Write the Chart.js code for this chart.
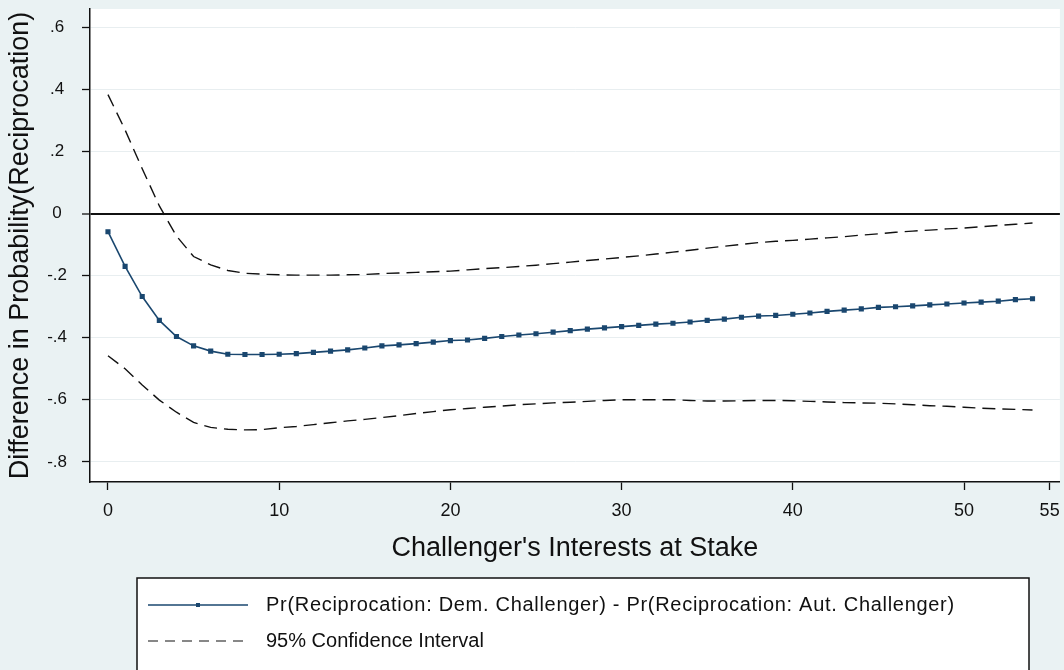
<!DOCTYPE html>
<html>
<head>
<meta charset="utf-8">
<script src="https://cdn.jsdelivr.net/npm/chart.js@4.4.1/dist/chart.umd.min.js"></script>
<style>
  html, body { margin: 0; padding: 0; background: rgb(234,242,243); }
  #wrap { width: 1064px; height: 670px; position: relative; }
</style>
</head>
<body>
<div id="wrap"><canvas id="c"></canvas></div>
<script>
// Challenger's interests at stake (x) and the estimated difference with its 95% band
const xValues = [0,1,2,3,4,5,6,7,8,9,10,11,12,13,14,15,16,17,18,19,20,21,22,23,24,25,26,27,28,29,30,31,32,33,34,35,36,37,38,39,40,41,42,43,44,45,46,47,48,49,50,51,52,53,54];
const estimate = [-0.058,-0.170,-0.267,-0.344,-0.396,-0.426,-0.443,-0.453,-0.454,-0.454,-0.453,-0.451,-0.447,-0.443,-0.439,-0.433,-0.426,-0.423,-0.419,-0.414,-0.409,-0.407,-0.402,-0.396,-0.391,-0.387,-0.382,-0.377,-0.372,-0.368,-0.364,-0.360,-0.356,-0.353,-0.349,-0.344,-0.340,-0.334,-0.330,-0.328,-0.324,-0.320,-0.315,-0.311,-0.307,-0.302,-0.300,-0.297,-0.294,-0.291,-0.288,-0.285,-0.282,-0.277,-0.274];
const upperCI = [0.384,0.270,0.145,0.025,-0.072,-0.138,-0.165,-0.183,-0.192,-0.195,-0.197,-0.198,-0.198,-0.198,-0.197,-0.196,-0.193,-0.191,-0.189,-0.187,-0.185,-0.181,-0.177,-0.174,-0.170,-0.166,-0.161,-0.156,-0.151,-0.146,-0.141,-0.136,-0.130,-0.124,-0.118,-0.111,-0.105,-0.099,-0.093,-0.089,-0.086,-0.082,-0.078,-0.074,-0.069,-0.065,-0.060,-0.056,-0.053,-0.049,-0.046,-0.042,-0.038,-0.034,-0.030];
const lowerCI = [-0.458,-0.500,-0.552,-0.601,-0.640,-0.673,-0.689,-0.695,-0.697,-0.696,-0.690,-0.686,-0.680,-0.674,-0.668,-0.663,-0.657,-0.651,-0.644,-0.638,-0.632,-0.628,-0.624,-0.620,-0.616,-0.613,-0.610,-0.608,-0.605,-0.602,-0.600,-0.600,-0.600,-0.600,-0.602,-0.604,-0.604,-0.603,-0.602,-0.602,-0.603,-0.605,-0.607,-0.609,-0.610,-0.611,-0.613,-0.616,-0.619,-0.621,-0.624,-0.627,-0.629,-0.631,-0.633];
const xTicks = [0,10,20,30,40,50,55];
const yTicks = [-0.8,-0.6,-0.4,-0.2,0,0.2,0.4,0.6];
const legendLabels = [
  "Pr(Reciprocation: Dem. Challenger) - Pr(Reciprocation: Aut. Challenger)",
  "95% Confidence Interval"
];

const NAVY = '#1a476f';
const PAGE_BG = 'rgb(234,242,243)';
const FONT = '"Liberation Sans", Arial, sans-serif';

const toPoints = ys => xValues.map((x, i) => ({ x: x, y: ys[i] }));

function yLabel(v) {
  if (v === 0) return '0';
  return (v < 0 ? '-' : '') + Math.abs(v).toFixed(1).replace(/^0/, '');
}

// page background and white plot region
const backdrop = {
  id: 'backdrop',
  beforeDraw(chart) {
    const { ctx, chartArea: a } = chart;
    ctx.save();
    ctx.fillStyle = PAGE_BG;
    ctx.fillRect(0, 0, chart.width, chart.height);
    ctx.fillStyle = '#ffffff';
    ctx.fillRect(a.left, a.top, a.right - a.left, a.bottom - a.top);
    ctx.restore();
  }
};

// boxed key below the axis title
const keyBox = {
  id: 'keyBox',
  afterDraw(chart) {
    const ctx = chart.ctx;
    const box = { left: 137, top: 578, right: 1029, bottom: 690 };
    ctx.save();
    ctx.fillStyle = '#ffffff';
    ctx.fillRect(box.left, box.top, box.right - box.left, box.bottom - box.top);
    ctx.strokeStyle = '#111';
    ctx.lineWidth = 1.5;
    ctx.strokeRect(box.left, box.top, box.right - box.left, box.bottom - box.top);

    const rows = [605, 641];
    const sx0 = 148, sx1 = 248;
    // solid line with marker
    ctx.strokeStyle = NAVY;
    ctx.lineWidth = 1.5;
    ctx.beginPath();
    ctx.moveTo(sx0, rows[0]);
    ctx.lineTo(sx1, rows[0]);
    ctx.stroke();
    ctx.fillStyle = NAVY;
    ctx.fillRect((sx0 + sx1) / 2 - 2, rows[0] - 2, 4, 4);
    // dashed line
    ctx.strokeStyle = '#111';
    ctx.lineWidth = 1.2;
    ctx.setLineDash([10, 7]);
    ctx.beginPath();
    ctx.moveTo(sx0, rows[1]);
    ctx.lineTo(sx1, rows[1]);
    ctx.stroke();
    ctx.setLineDash([]);

    ctx.fillStyle = '#111';
    ctx.font = '20px ' + FONT;
    ctx.textBaseline = 'middle';
    ctx.textAlign = 'left';
    ctx.letterSpacing = '0.7px';
    ctx.fillText(legendLabels[0], 266, rows[0]);
    ctx.letterSpacing = '0px';
    ctx.fillText(legendLabels[1], 266, rows[1]);
    ctx.restore();
  }
};

new Chart(document.getElementById('c'), {
  type: 'line',
  data: {
    datasets: [
      {
        label: legendLabels[0],
        data: toPoints(estimate),
        borderColor: NAVY,
        backgroundColor: NAVY,
        borderWidth: 1.6,
        pointStyle: 'rect',
        pointRadius: 2.5,
        pointHoverRadius: 2.5,
        tension: 0,
        order: 1
      },
      {
        label: legendLabels[1],
        data: toPoints(upperCI),
        borderColor: '#111',
        borderWidth: 1.4,
        borderDash: [13, 7],
        pointRadius: 0,
        tension: 0,
        order: 2
      },
      {
        label: legendLabels[1],
        data: toPoints(lowerCI),
        borderColor: '#111',
        borderWidth: 1.4,
        borderDash: [13, 7],
        pointRadius: 0,
        tension: 0,
        order: 2
      }
    ]
  },
  options: {
    responsive: true,
    maintainAspectRatio: false,
    animation: false,
    layout: { padding: { top: 9, right: 0, bottom: 103, left: 0 } },
    plugins: {
      legend: { display: false },
      tooltip: { enabled: false }
    },
    scales: {
      x: {
        type: 'linear',
        min: -1.05,
        max: 55.6,
        afterBuildTicks(scale) { scale.ticks = xTicks.map(v => ({ value: v })); },
        afterFit(scale) {
          scale.height = 85;
          scale.paddingLeft = 0;
          scale.paddingRight = 0;
        },
        ticks: {
          color: '#111',
          font: { family: FONT, size: 18 },
          padding: 10,
          maxRotation: 0,
          autoSkip: false,
          callback: v => String(v)
        },
        grid: {
          drawOnChartArea: false,
          tickLength: 8,
          tickColor: '#111',
          tickWidth: 1.3
        },
        border: { display: true, color: '#111', width: 1.5 },
        title: {
          display: true,
          text: "Challenger's Interests at Stake",
          color: '#111',
          font: { family: FONT, size: 27 },
          padding: { top: 0, bottom: 2 }
        }
      },
      y: {
        type: 'linear',
        min: -0.865,
        max: 0.66,
        afterBuildTicks(scale) { scale.ticks = yTicks.map(v => ({ value: v })); },
        afterFit(scale) {
          scale.width = 90;
          scale.paddingTop = 0;
          scale.paddingBottom = 0;
        },
        ticks: {
          color: '#111',
          font: { family: FONT, size: 17 },
          padding: 15,
          crossAlign: 'center',
          callback: v => yLabel(v)
        },
        grid: {
          color: c => (c.tick && c.tick.value === 0) ? '#111' : '#e8eef0',
          lineWidth: c => (c.tick && c.tick.value === 0) ? 2 : 1,
          tickLength: 8,
          tickColor: '#111',
          tickWidth: 1.3
        },
        border: { display: true, color: '#111', width: 1.5 },
        title: {
          display: true,
          text: 'Difference in Probability(Reciprocation)',
          color: '#111',
          font: { family: FONT, size: 27 },
          padding: { top: 4, bottom: 0 }
        }
      }
    }
  },
  plugins: [backdrop, keyBox]
});
</script>
</body>
</html>
